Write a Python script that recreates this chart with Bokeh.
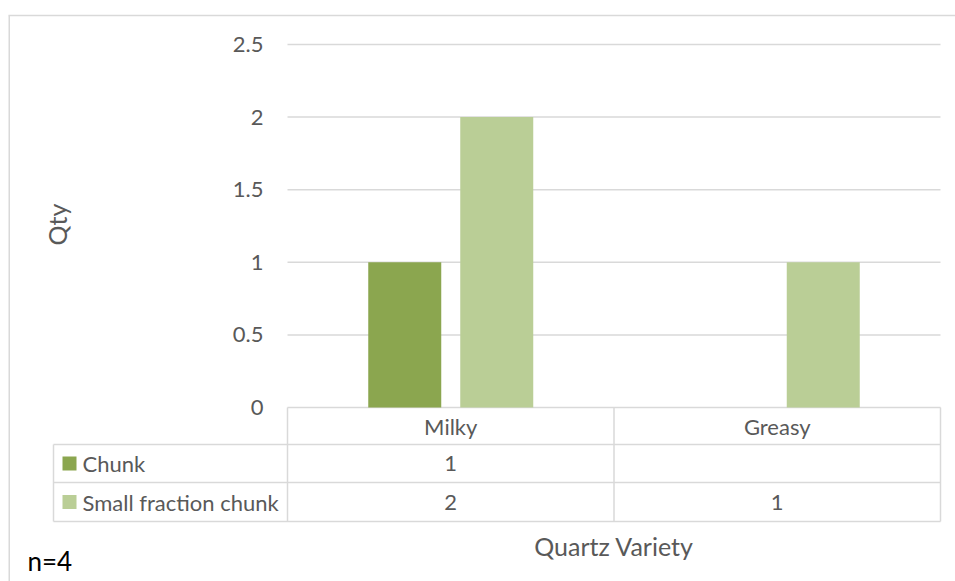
import math
from bokeh.plotting import figure
from bokeh.models import Range1d
from bokeh.embed import file_html
from bokeh.resources import INLINE
from bokeh.core.properties import value

# ---------------- data ----------------
categories = ["Milky", "Greasy"]
series_names = ["Chunk", "Small fraction chunk"]
chunk = [1, None]
small_fraction_chunk = [2, 1]
y_ticks = [0, 0.5, 1, 1.5, 2, 2.5]
y_tick_labels = ["0", "0.5", "1", "1.5", "2", "2.5"]
y_title = "Qty"
x_title = "Quartz Variety"
note = "n=4"

series_values = [chunk, small_fraction_chunk]
colors = ["#8BA64F", "#BACE96"]
GRID = "#D9D9D9"
TEXT = "#595959"
FONT = "Lato"
FS = "22px"

# ---------------- layout (page pixels) ----------------
W, H = 955, 581
OX, OY = 0, 0
PL, PR = 287, 940          # plot area left/right
P0, PTOP = 407, 44         # y pixel of value 0 and of axis max
YMAX = y_ticks[-1]
TBL_L = 53                 # table left edge
ROW_LINES = [444, 482, 521]
HEADER_C = 425.5
ROW_C = [463, 501.5]

cat_w = (PR - PL) / len(categories)
unit = (P0 - PTOP) / YMAX


def X(px):
    return (px - PL) / cat_w


def Y(py):
    return (P0 - py) / unit


p = figure(width=W, height=H, output_backend="svg", toolbar_location=None,
           x_range=Range1d(X(OX), X(OX + W)), y_range=Range1d(Y(OY + H), Y(OY)),
           x_axis_type=None, y_axis_type=None, min_border=0)
p.grid.visible = False
p.outline_line_color = None
p.background_fill_color = "white"

# outer chart border (top + left)
p.segment(x0=[X(8), X(8.75)], y0=[Y(15), Y(15)],
          x1=[X(OX + W), X(8.75)], y1=[Y(15), Y(OY + H)],
          line_color=GRID, line_width=1.5)

# gridlines
p.segment(x0=[X(PL)] * len(y_ticks), y0=y_ticks, x1=[X(PR)] * len(y_ticks), y1=y_ticks,
          line_color=GRID, line_width=1.5)

# y tick labels
p.text(x=[X(263)] * len(y_ticks), y=y_ticks, text=y_tick_labels,
       text_font=value(FONT), text_font_size=FS, text_color=TEXT,
       text_align="right", text_baseline="middle")

# bars
off = 46 / cat_w
bw = 73 / cat_w
for s, vals in enumerate(series_values):
    xs, tops = [], []
    for i, v in enumerate(vals):
        if v is None:
            continue
        xs.append(i + 0.5 + (2 * s - 1) * off)
        tops.append(v)
    p.vbar(x=xs, top=tops, bottom=0, width=bw, fill_color=colors[s], line_color=None)

# data table lines
hx0 = [X(TBL_L)] * len(ROW_LINES)
hx1 = [X(PR)] * len(ROW_LINES)
p.segment(x0=hx0, y0=[Y(r) for r in ROW_LINES], x1=hx1, y1=[Y(r) for r in ROW_LINES],
          line_color=GRID, line_width=1.5)
vx = [X(TBL_L)] + [X(PL + k * cat_w) for k in range(len(categories) + 1)]
vy0 = [Y(ROW_LINES[0])] + [Y(P0)] * (len(categories) + 1)
vy1 = [Y(ROW_LINES[-1])] * len(vx)
p.segment(x0=vx, y0=vy0, x1=vx, y1=vy1, line_color=GRID, line_width=1.5)

# header
p.text(x=[i + 0.5 for i in range(len(categories))], y=[Y(HEADER_C)] * len(categories),
       text=categories, text_font=value(FONT), text_font_size=FS, text_color=TEXT,
       text_align="center", text_baseline="middle")

# legend keys + row labels + values
for s, name in enumerate(series_names):
    rc = ROW_C[s]
    p.quad(left=[X(62)], right=[X(76)], top=[Y(rc - 7)], bottom=[Y(rc + 7)],
           fill_color=colors[s], line_color=None)
    p.text(x=[X(82)], y=[Y(rc)], text=[name], text_font=value(FONT), text_font_size=FS,
           text_color=TEXT, text_align="left", text_baseline="middle")
    xs, ts = [], []
    for i, v in enumerate(series_values[s]):
        if v is None:
            continue
        xs.append(i + 0.5)
        ts.append(str(int(v)) if float(v).is_integer() else str(v))
    p.text(x=xs, y=[Y(rc)] * len(xs), text=ts, text_font=value(FONT), text_font_size=FS,
           text_color=TEXT, text_align="center", text_baseline="middle")

# axis titles
p.text(x=[X(56)], y=[Y(224)], text=[y_title], angle=math.pi / 2, text_font=value(FONT),
       text_font_size="25px", text_color=TEXT, text_align="center", text_baseline="middle")
p.text(x=[len(categories) / 2], y=[Y(545)], text=[x_title], text_font=value(FONT),
       text_font_size="25px", text_color=TEXT, text_align="center", text_baseline="middle")

# note
p.text(x=[X(27)], y=[Y(560)], text=[note], text_font=value(FONT), text_font_size="26px",
       text_color="#000000", text_align="left", text_baseline="middle")

open("out.html", "w").write(file_html(p, INLINE))
